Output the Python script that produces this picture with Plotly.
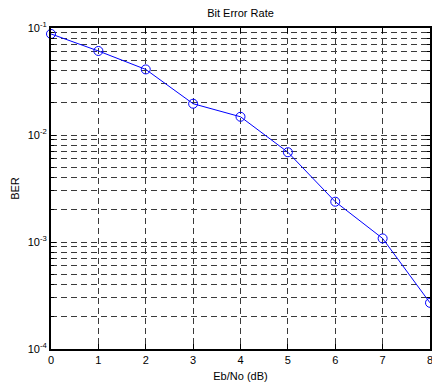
import plotly.graph_objects as go

ebno_db = [0, 1, 2, 3, 4, 5, 6, 7, 8]
ber = [0.088, 0.061, 0.041, 0.0196, 0.0148, 0.0069, 0.00238, 0.00108, 0.00027]

y_major_vals = [1e-4, 1e-3, 1e-2, 1e-1]
y_major_text = ["10<sup>-4</sup>", "10<sup>-3</sup>", "10<sup>-2</sup>", "10<sup>-1</sup>"]
y_minor_vals = [m * 10.0 ** e for e in (-4, -3, -2) for m in range(2, 10)]
x_ticks = [0, 1, 2, 3, 4, 5, 6, 7, 8]

FONT = "Arial, Liberation Sans, Helvetica, sans-serif"
GRID = "#3a3a3a"
DASH = "6px,4px"

fig = go.Figure()
fig.add_trace(go.Scatter(
    x=ebno_db, y=ber, mode="lines+markers",
    line=dict(color="#0000ff", width=1),
    marker=dict(symbol="circle-open", size=9, color="#0000ff", line=dict(width=1, color="#0000ff")),
    cliponaxis=False, showlegend=False,
))

fig.update_layout(
    width=432, height=383,
    margin=dict(l=51, r=2, t=28, b=34, autoexpand=False),
    paper_bgcolor="white", plot_bgcolor="white",
    font=dict(family=FONT, size=11, color="black"),
    title=dict(text="Bit Error Rate", x=(51 + 430) / 2 / 432, xanchor="center",
               y=1 - 13 / 383, yanchor="middle", yref="container",
               font=dict(family=FONT, size=11, color="black")),
)

fig.update_xaxes(
    range=[0, 8], tickmode="array", tickvals=x_ticks,
    ticks="inside", ticklen=5, tickcolor="black", tickwidth=1,
    showline=True, linecolor="black", linewidth=2, mirror="ticks",
    showgrid=True, gridcolor=GRID, gridwidth=1, griddash=DASH,
    zeroline=False, automargin=False, ticklabeloverflow="allow",
    title=dict(text="Eb/No (dB)", standoff=7, font=dict(size=11)),
    tickfont=dict(size=11),
)

fig.update_yaxes(
    type="log", range=[-4, -1], tickmode="array",
    tickvals=y_major_vals, ticktext=y_major_text,
    ticks="inside", ticklen=5, tickcolor="black", tickwidth=1,
    showline=True, linecolor="black", linewidth=2, mirror="ticks",
    showgrid=True, gridcolor=GRID, gridwidth=1, griddash=DASH,
    zeroline=False, automargin=False, ticklabeloverflow="allow",
    minor=dict(tickmode="array", tickvals=y_minor_vals, ticks="inside", ticklen=3,
               tickcolor="black", showgrid=True, gridcolor=GRID, gridwidth=1, griddash=DASH),
    title=dict(text="BER", standoff=6, font=dict(size=11)),
    tickfont=dict(size=11),
)

fig.write_html("out.html", config={"displayModeBar": False},
               post_script="document.body.style.margin='0';document.body.style.overflow='hidden';")
